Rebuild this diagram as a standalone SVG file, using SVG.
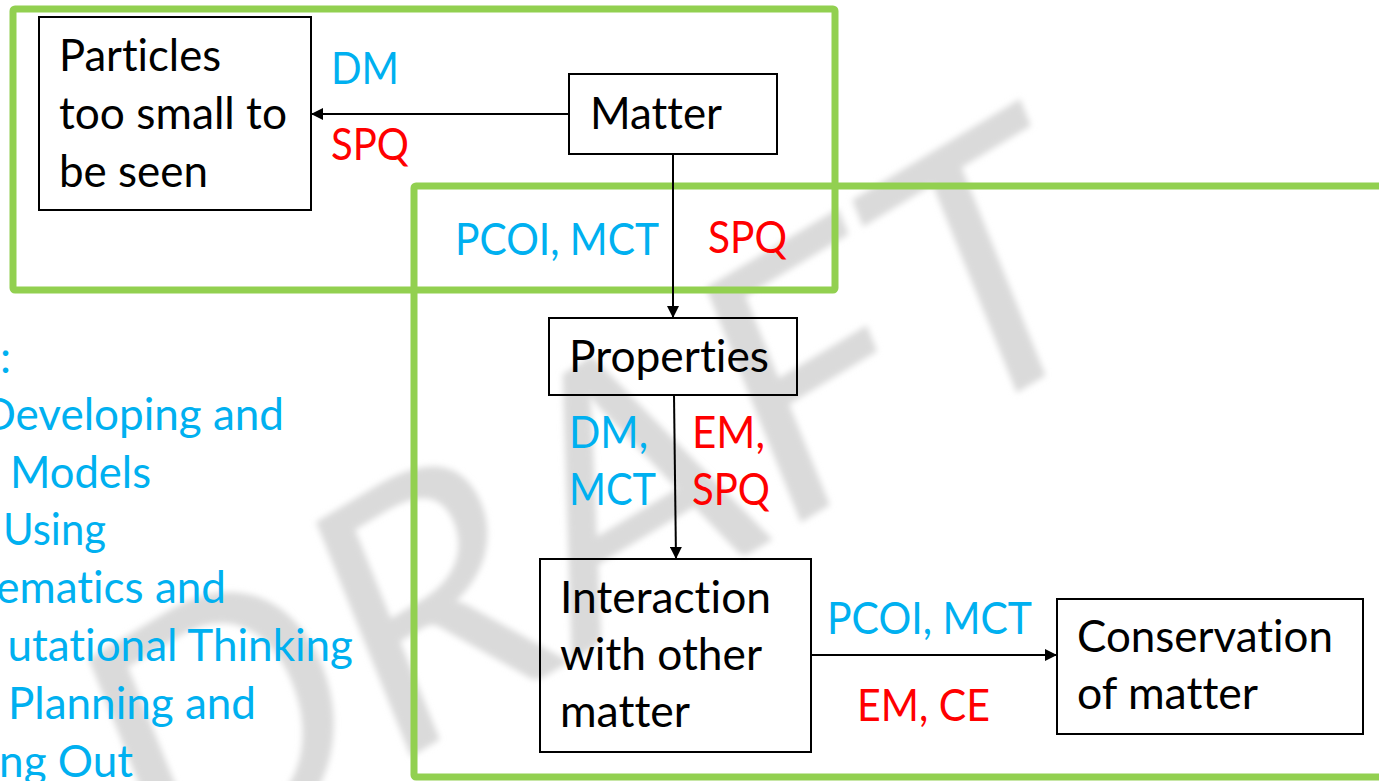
<svg xmlns="http://www.w3.org/2000/svg" width="1379" height="781" viewBox="0 0 1379 781">
<style>
text { font-family: Lato, "Liberation Sans", sans-serif; font-size: 44px; font-variant-ligatures: none; }
.k { fill: #000; }
.b { fill: #00B0F0; }
.r { fill: #FF0000; }
.box { fill: none; stroke: #000; stroke-width: 2; }
.grp { fill: none; stroke: #92D050; stroke-width: 7; stroke-linejoin: round; }
.con { fill: none; stroke: #000; stroke-width: 2; marker-end: url(#ah); }
.wm { font-size: 349px; fill: #dadada; }
</style>
<defs>
<marker id="ah" viewBox="0 0 10 10" refX="10" refY="5" markerUnits="userSpaceOnUse" markerWidth="14" markerHeight="12" orient="auto">
<path d="M0,0 L10,5 L0,10 z" fill="#000"/>
</marker>
<filter id="blur" x="-10%" y="-10%" width="120%" height="120%"><feGaussianBlur stdDeviation="3"/></filter>
</defs>
<rect width="1379" height="781" fill="#fff"/>
<g id="watermark" filter="url(#blur)">
<text class="wm" transform="translate(156,910) rotate(-31) skewX(-9)">DRAFT</text>
</g>
<g id="groups">
<rect class="grp" x="13" y="9" width="822" height="281" rx="2"/>
<rect class="grp" x="414" y="186" width="985" height="591" rx="2"/>
</g>
<g id="legend">
<text class="b" x="0" y="373">:</text>
<text class="b" x="284" y="430" text-anchor="end" font-size="43">Developing and</text>
<text class="b" x="10" y="488" textLength="141" lengthAdjust="spacingAndGlyphs">Models</text>
<text class="b" x="3" y="545" textLength="103" lengthAdjust="spacingAndGlyphs">Using</text>
<text class="b" x="226" y="603" text-anchor="end" font-size="43">ematics and</text>
<text class="b" x="353" y="661" text-anchor="end" font-size="43">utational Thinking</text>
<text class="b" x="8" y="719" textLength="248" lengthAdjust="spacingAndGlyphs">Planning and</text>
<text class="b" x="133" y="777" text-anchor="end" font-size="43">ng Out</text>
</g>
<g id="connectors">
<line class="con" x1="569" y1="114" x2="311" y2="114"/>
<line class="con" x1="673" y1="154" x2="673" y2="318"/>
<line class="con" x1="674" y1="395" x2="676" y2="559"/>
<line class="con" x1="811" y1="655" x2="1057" y2="655"/>
<text class="b" x="331" y="84" textLength="68" lengthAdjust="spacingAndGlyphs">DM</text>
<text class="r" x="331" y="160" textLength="78" lengthAdjust="spacingAndGlyphs">SPQ</text>
<text class="b" x="455" y="255" textLength="204" lengthAdjust="spacingAndGlyphs">PCOI, MCT</text>
<text class="r" x="708" y="253" textLength="79" lengthAdjust="spacingAndGlyphs">SPQ</text>
<text class="b" x="569" y="448" textLength="79" lengthAdjust="spacingAndGlyphs">DM,</text>
<text class="b" x="569" y="505" textLength="87" lengthAdjust="spacingAndGlyphs">MCT</text>
<text class="r" x="692" y="448" textLength="73" lengthAdjust="spacingAndGlyphs">EM,</text>
<text class="r" x="692" y="505" textLength="78" lengthAdjust="spacingAndGlyphs">SPQ</text>
<text class="b" x="827" y="634" textLength="205" lengthAdjust="spacingAndGlyphs">PCOI, MCT</text>
<text class="r" x="857" y="721" textLength="133" lengthAdjust="spacingAndGlyphs">EM, CE</text>
</g>
<g id="particles">
<rect class="box" x="39" y="17" width="272" height="193"/>
<text class="k" x="59" y="71" textLength="162" lengthAdjust="spacingAndGlyphs">Particles</text>
<text class="k" x="59" y="129" textLength="228" lengthAdjust="spacingAndGlyphs">too small to</text>
<text class="k" x="59" y="187" textLength="149" lengthAdjust="spacingAndGlyphs">be seen</text>
</g>
<g id="matter">
<rect class="box" x="569" y="74" width="208" height="80"/>
<text class="k" x="590" y="129" textLength="132" lengthAdjust="spacingAndGlyphs">Matter</text>
</g>
<g id="properties">
<rect class="box" x="549" y="318" width="248" height="77"/>
<text class="k" x="569" y="372" textLength="200" lengthAdjust="spacingAndGlyphs">Properties</text>
</g>
<g id="interaction">
<rect class="box" x="540" y="559" width="271" height="193"/>
<text class="k" x="560" y="613" textLength="211" lengthAdjust="spacingAndGlyphs">Interaction</text>
<text class="k" x="560" y="670" textLength="202" lengthAdjust="spacingAndGlyphs">with other</text>
<text class="k" x="560" y="727" textLength="130" lengthAdjust="spacingAndGlyphs">matter</text>
</g>
<g id="conservation">
<rect class="box" x="1057" y="599" width="306" height="135"/>
<text class="k" x="1077" y="652" textLength="256" lengthAdjust="spacingAndGlyphs">Conservation</text>
<text class="k" x="1077" y="709" textLength="181" lengthAdjust="spacingAndGlyphs">of matter</text>
</g>
</svg>
